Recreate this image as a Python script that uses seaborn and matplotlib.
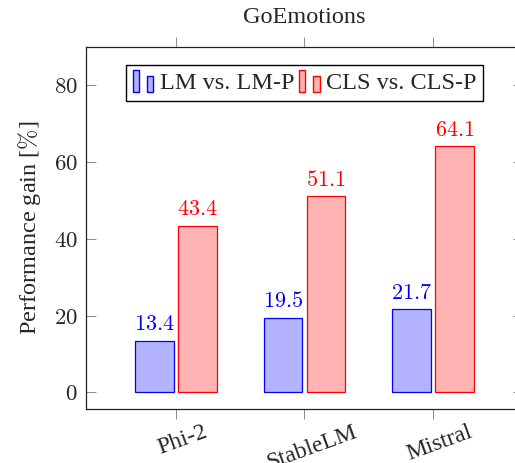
import matplotlib
matplotlib.use("Agg")
import matplotlib.pyplot as plt
import matplotlib.transforms as mtransforms
import pandas as pd
import seaborn as sns
from matplotlib.legend_handler import HandlerBase
from matplotlib.patches import Patch, Rectangle
from matplotlib.ticker import FuncFormatter

models = ["Phi-2", "StableLM", "Mistral"]
series = ["LM vs. LM-P", "CLS vs. CLS-P"]
lm_gain = [13.4, 19.5, 21.7]
cls_gain = [43.4, 51.1, 64.1]

FILL = {"LM vs. LM-P": "#b3b3ff", "CLS vs. CLS-P": "#ffb3b3"}
EDGE = {"LM vs. LM-P": "#0000ff", "CLS vs. CLS-P": "#ff0000"}

sns.set_style("ticks")
plt.rcParams["font.family"] = ["Liberation Serif", "DejaVu Serif"]
plt.rcParams["mathtext.fontset"] = "cm"


class TwoBarHandler(HandlerBase):
    # pgfplots-style ybar legend image: a tall and a short bar
    def create_artists(self, legend, orig_handle, xdescent, ydescent,
                       width, height, fontsize, trans):
        kw = dict(facecolor=orig_handle.get_facecolor(),
                  edgecolor=orig_handle.get_edgecolor(), lw=1.0, transform=trans)
        bw = width * 0.3
        y0 = -ydescent - 0.15 * height
        tall = Rectangle((-xdescent, y0), bw, height * 1.25, **kw)
        short = Rectangle((-xdescent + width * 0.7, y0), bw, height * 0.95, **kw)
        return [tall, short]


df = pd.DataFrame({
    "model": models * 2,
    "series": [series[0]] * 3 + [series[1]] * 3,
    "gain": lm_gain + cls_gain,
})

fig = plt.figure(figsize=(5.15, 4.63), dpi=100)
ax = fig.add_axes([0.167, 0.1166, 0.8485, 0.7825])

sns.barplot(data=df, x="model", y="gain", hue="series", hue_order=series,
            palette=FILL, width=0.672, gap=0.107, saturation=1,
            linewidth=0.9, ax=ax)

for cont, name in zip(ax.containers, series):
    for bar in cont:
        bar.set_edgecolor(EDGE[name])
    ax.bar_label(cont, labels=[f"${v}$" for v in cont.datavalues],
                 padding=4, color=EDGE[name], fontsize=16)

ax.set_xlim(-0.7, 2.7)
ax.set_ylim(-4.3, 90)
ax.set_yticks([0, 20, 40, 60, 80])
ax.yaxis.set_major_formatter(FuncFormatter(lambda v, p: f"${v:.0f}$"))

ax.tick_params(axis="x", direction="out", top=True, length=7, width=0.6,
               color="#777777", labelsize=17, labelrotation=20, pad=2)
ax.tick_params(axis="y", direction="in", right=True, length=7, width=0.6,
               color="#777777", labelsize=16.5, pad=6)
shift = mtransforms.ScaledTranslation(7 / 100, 0, fig.dpi_scale_trans)
for lab in ax.get_xticklabels():
    lab.set_ha("center")
    lab.set_transform(lab.get_transform() + shift)

for sp in ax.spines.values():
    sp.set_color("#222222")
    sp.set_linewidth(0.9)
# right axis line lies past the figure edge in the original
ax.spines["right"].set_visible(False)

ax.set_xlabel("")
ax.set_ylabel("Performance gain [$\\%$]", fontsize=17.5, labelpad=8)
ax.set_title("GoEmotions", fontsize=17.5, pad=17)

ax.get_legend().remove()
handles = [Patch(facecolor=FILL[s], edgecolor=EDGE[s]) for s in series]
leg = ax.legend(handles, series, loc="upper center", bbox_to_anchor=(0.5, 0.95),
                ncol=2, fontsize=17.5, frameon=True, fancybox=False,
                edgecolor="black", framealpha=1, borderpad=0.3, borderaxespad=0,
                handlelength=0.85, handletextpad=0.25, columnspacing=0.2,
                handler_map={Patch: TwoBarHandler()})
leg.get_frame().set_linewidth(1.0)

fig.savefig("out.png", dpi=100)
